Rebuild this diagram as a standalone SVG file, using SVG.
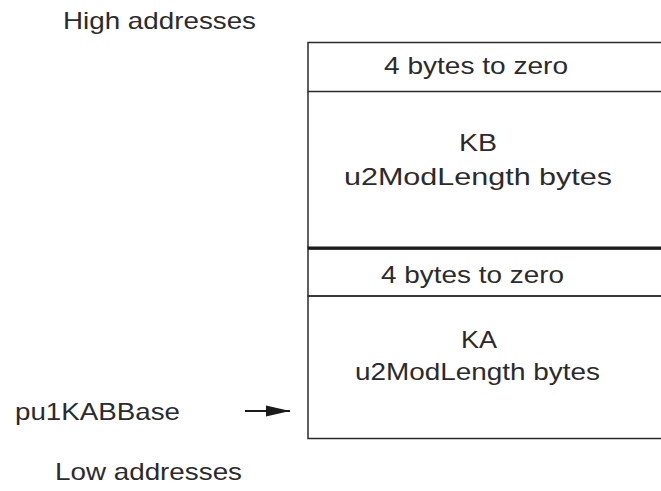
<svg xmlns="http://www.w3.org/2000/svg" width="661" height="491" viewBox="0 0 661 491">
<style>
text{font-family:"Liberation Sans",Arial,sans-serif;font-size:24px;fill:#2b2b2b}
.ln{stroke:#2b2b2b;stroke-width:1.5;fill:none}
.thick{stroke:#1a1a1a;stroke-width:3.2;fill:none}
</style>
<defs>
<marker id="ah" markerWidth="24" markerHeight="12" refX="24" refY="6" orient="auto" markerUnits="userSpaceOnUse">
<path d="M0,0.5 L24,6 L0,11.5 Z" fill="#1a1a1a"/>
</marker>
</defs>
<g id="labels">
<text x="63" y="28.5" textLength="193" lengthAdjust="spacingAndGlyphs">High addresses</text>
<text x="15" y="420" textLength="165" lengthAdjust="spacingAndGlyphs">pu1KABBase</text>
<text x="55" y="480" textLength="187" lengthAdjust="spacingAndGlyphs">Low addresses</text>
</g>
<g id="kb-zero">
<rect class="ln" x="308" y="42.5" width="370" height="49"/>
<text x="384" y="74" textLength="184" lengthAdjust="spacingAndGlyphs">4 bytes to zero</text>
</g>
<g id="kb">
<path class="ln" d="M308,91.5 V248"/>
<text x="459" y="151" textLength="38" lengthAdjust="spacingAndGlyphs">KB</text>
<text x="344" y="185" textLength="268" lengthAdjust="spacingAndGlyphs">u2ModLength bytes</text>
</g>
<g id="ka-zero">
<rect class="ln" x="308" y="249" width="370" height="47"/>
<text x="381" y="283" textLength="183" lengthAdjust="spacingAndGlyphs">4 bytes to zero</text>
</g>
<g id="ka">
<rect class="ln" x="308" y="296" width="370" height="142.5"/>
<text x="461" y="347.5" textLength="36" lengthAdjust="spacingAndGlyphs">KA</text>
<text x="355" y="379.5" textLength="245" lengthAdjust="spacingAndGlyphs">u2ModLength bytes</text>
</g>
<g id="connectors">
<path class="thick" d="M307.5,248 H670"/>
<line x1="245" y1="411" x2="290" y2="411" stroke="#1a1a1a" stroke-width="1.8" marker-end="url(#ah)"/>
</g>
</svg>
